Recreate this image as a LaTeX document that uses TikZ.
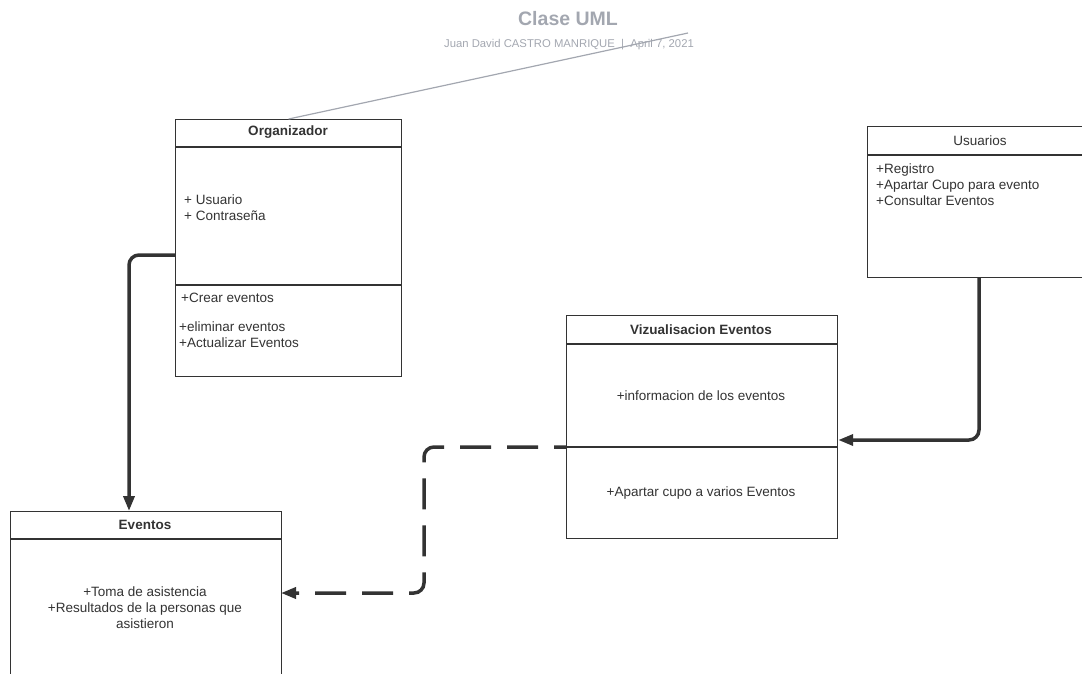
\documentclass[tikz,border=0pt]{standalone}
\usepackage{fontspec}
\setmainfont{Liberation Sans}
\usetikzlibrary{arrows.meta}
\definecolor{ink}{HTML}{333333}
\definecolor{ttl}{HTML}{A3A7B0}
\begin{document}
\begin{tikzpicture}[x=1pt,y=-1pt,
  box/.style={draw=ink, line width=1.2pt, fill=white, anchor=north west, inner sep=0pt},
  sep/.style={draw=ink, line width=1.2pt},
  conn/.style={draw=ink, line width=3.5pt, rounded corners=10pt, -{Triangle[length=15pt,width=11pt]}},
  dconn/.style={conn, dash pattern=on 31pt off 16pt, dash phase=19pt},
  txt/.style={font=\fontsize{13.5}{16}\selectfont, text=ink, inner sep=0pt, yshift=-1.3pt},
  ltxt/.style={txt, anchor=west, align=left},
  ctxt/.style={txt, align=center},
  head/.style={txt, font=\fontsize{13.5}{16}\selectfont\bfseries},
]
\useasboundingbox (0,0) rectangle (1082,673);

% title
\node[font=\fontsize{19.5}{22}\selectfont\bfseries, text=ttl, yshift=-1pt] (title) at (568,18) {Clase UML};
\node[font=\fontsize{11.3}{13}\selectfont, text=ttl] (sub) at (569,45) {Juan David CASTRO MANRIQUE \ | \ April 7, 2021};

% Organizador
\node[box, minimum width=226pt, minimum height=257pt] (org) at (175,119) {};
\draw[sep] (175,147) -- (401,147);
\draw[sep] (175,285) -- (401,285);
\node[head] (orgh) at (288,131) {Organizador};
\node[ltxt] (orga) at (184,206) {+ Usuario\\+ Contraseña};
\node[ltxt] (orgm1) at (181,297) {+Crear eventos};
\node[ltxt] (orgm2) at (179,333) {+eliminar eventos\\+Actualizar Eventos};

% title line
\coordinate (tl) at (688,33);
\draw[draw=ttl, line width=1.2pt] (org.north) -- (tl);

% Usuarios
\node[box, minimum width=230pt, minimum height=151pt] (usr) at (867,126) {};
\draw[sep] (867,155) -- (1097,155);
\node[txt] (usrh) at (980,139) {Usuarios};
\node[ltxt] (usra) at (876,183) {+Registro\\+Apartar Cupo para evento\\+Consultar Eventos};

% Vizualisacion Eventos
\node[box, minimum width=271pt, minimum height=223pt] (viz) at (566,315) {};
\draw[sep] (566,344) -- (837,344);
\draw[sep] (566,447) -- (837,447);
\node[head] (vizh) at (701,328) {Vizualisacion Eventos};
\node[ctxt] (viza) at (701,394) {+informacion de los eventos};
\node[ctxt] (vizm) at (701,492) {+Apartar cupo a varios Eventos};

% Eventos
\node[box, minimum width=271pt, minimum height=180pt] (evt) at (10,511) {};
\draw[sep] (10,539) -- (281,539);
\node[head] (evth) at (145,524) {Eventos};
\node[ctxt] (evta) at (145,606) {+Toma de asistencia\\+Resultados de la personas que\\asistieron};

% connectors
\draw[conn] (org.west |- 0,255) -- (129,255) -- (129,511);
\draw[conn] (979,277) -- (979,440) -- (viz.east |- 0,440);
\draw[dconn] (566,447) -- (424,447) -- (424,593) -- (281,593);
\end{tikzpicture}
\end{document}
